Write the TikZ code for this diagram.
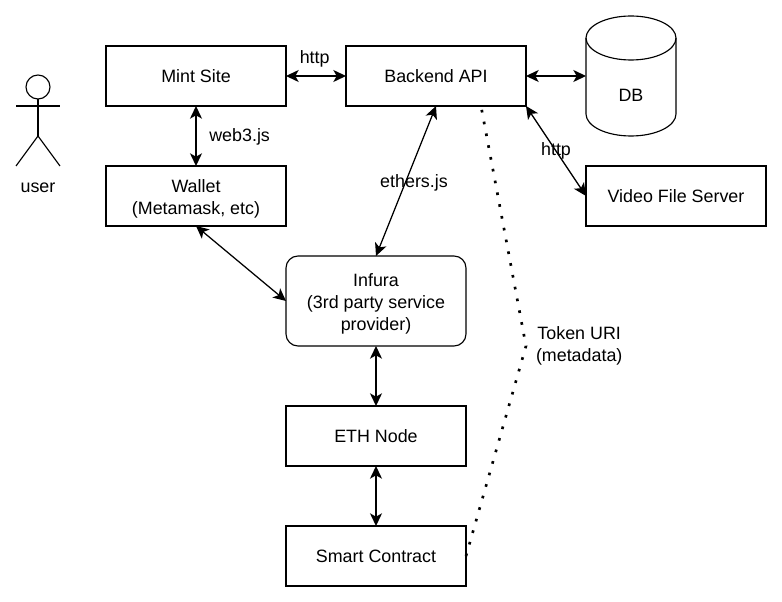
\documentclass[tikz,border=0pt]{standalone}
\usepackage{fontspec}
\setmainfont{Liberation Sans}
\usetikzlibrary{arrows.meta, positioning, calc}
\newcommand{\toppad}{\rule{0pt}{14.6pt}}

\begin{document}
\begin{tikzpicture}[
        node distance=45pt,
        outer sep=0pt,
        font=\fontsize{13.4pt}{16.5pt}\selectfont,
        box/.style={rectangle, draw, line width=0.85pt, minimum width=135pt, minimum height=45pt, align=center, inner sep=0pt},
        roundbox/.style={box, minimum height=67.5pt, rounded corners=9pt},
        arrow/.style={{Stealth[length=9.5pt,width=9pt,inset=2.5pt]}-{Stealth[length=9.5pt,width=9pt,inset=2.5pt]}, line width=0.95pt},
        stick/.style={line width=0.85pt},
        dots/.style={line width=2pt, dash pattern=on 2pt off 7pt},
        lbl/.style={inner sep=0pt, align=center}
    ]
        \useasboundingbox (0,0) rectangle (586.5pt,-451.5pt);

        \node[box] (mint) at (147pt,-57pt) {Mint Site};
        \node[box, right=of mint] (backend) {Backend API};
        \node[box, below=of mint] (wallet) {\toppad Wallet\\(Metamask, etc)};
        \node[roundbox, below=22.5pt of wallet, xshift=135pt] (infura) {\toppad Infura\\(3rd party service\\provider)};
        \node[box, below=of infura] (ethnode) {ETH Node};
        \node[box, below=of ethnode] (contract) {Smart Contract};
        \node[box, below=of backend, xshift=180pt] (video) {Video File Server};

        % db cylinder, the node only holds the anchors
        \node[minimum width=67.5pt, minimum height=90pt, inner sep=0pt, right=45pt of backend] (db) {};
        \draw[stick] ($(db.north west)+(0,-16.5pt)$) arc[start angle=180, end angle=0, x radius=33.75pt, y radius=16.5pt]
            -- ($(db.south east)+(0,16.5pt)$) arc[start angle=0, end angle=-180, x radius=33.75pt, y radius=16.5pt] -- cycle;
        \draw[stick] ($(db.north west)+(0,-16.5pt)$) arc[start angle=180, end angle=360, x radius=33.75pt, y radius=16.5pt];
        \node[lbl] (dblabel) at ($(db.center)+(0,-14.5pt)$) {DB};

        % user figure
        \node[circle, draw, line width=0.85pt, minimum size=18pt, inner sep=0pt] (head) at (28.5pt,-65.25pt) {};
        \coordinate (hip) at (28.5pt,-102pt);
        \coordinate (armleft) at (12pt,-79.5pt);
        \coordinate (armright) at (45pt,-79.5pt);
        \coordinate (footleft) at (12pt,-124.5pt);
        \coordinate (footright) at (45pt,-124.5pt);
        \draw[stick] (head.south) -- (hip);
        \draw[stick] (armleft) -- (armright);
        \draw[stick] (footleft) -- (hip) -- (footright);
        \node[lbl, below=35pt of hip] (user) {user};

        \draw[arrow] (mint) -- node[lbl, above=6.5pt, xshift=-1pt] (httpmint) {http} (backend);
        \draw[arrow] (mint) -- node[lbl, right=10pt, yshift=-1pt] (web3) {web3.js} (wallet);
        \draw[arrow] (backend) -- (db);
        \draw[arrow] (backend.south east) -- node[lbl] (httpvideo) {http} (video.west);
        \draw[arrow] (backend.south) -- node[lbl, xshift=6pt, yshift=-1.5pt] (ethers) {ethers.js} (infura.north);
        \draw[arrow] (wallet.south) -- (infura.west);
        \draw[arrow] (infura) -- (ethnode);
        \draw[arrow] (ethnode) -- (contract);

        \coordinate (tokenbend) at (394.5pt,-259.5pt);
        \coordinate (tokenend) at ($(backend.south)!0.5!(backend.south east)$);
        \draw[dots] (contract.east) -- (tokenbend) -- (tokenend);
        \node[lbl, right=7.5pt of tokenbend] (token) {Token URI\\(metadata)};
    \end{tikzpicture}
\end{document}
